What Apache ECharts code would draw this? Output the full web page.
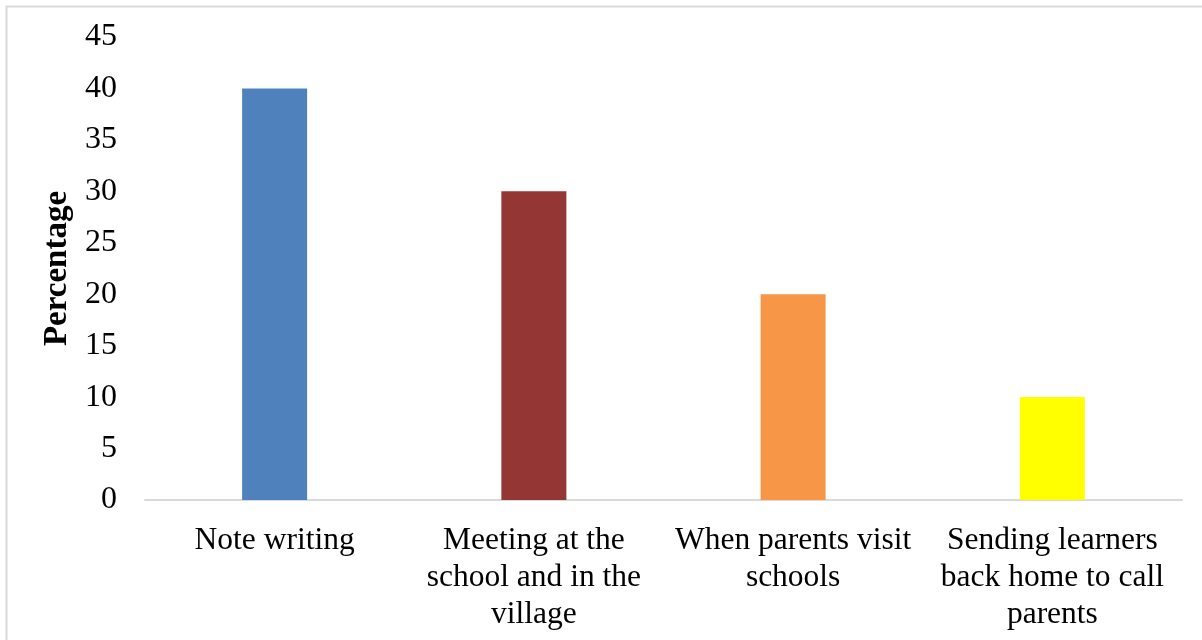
<!DOCTYPE html>
<html>
<head>
<meta charset="utf-8">
<script src="https://cdn.jsdelivr.net/npm/echarts@6/dist/echarts.min.js"></script>
<style>
html,body{margin:0;padding:0;background:#fff;}
#chart{width:1202px;height:640px;}
</style>
</head>
<body>
<div id="chart"></div>
<script>
const categories = ['Note writing', 'Meeting at the\nschool and in the\nvillage', 'When parents visit\nschools', 'Sending learners\nback home to call\nparents'];
const values = [40, 30, 20, 10];
const barColors = ['#4F81BD', '#943634', '#F79646', '#FFFF00'];
const yTicks = {min: 0, max: 45, interval: 5};

const chart = echarts.init(document.getElementById('chart'));
const font = '"Liberation Serif", "Times New Roman", serif';
chart.setOption({
  animation: false,
  graphic: [{
    type: 'rect',
    shape: {x: 6.5, y: 6.5, width: 1300, height: 800},
    style: {fill: 'none', stroke: '#D9D9D9', lineWidth: 2},
    silent: true
  }],
  grid: {left: 145, right: 20, top: 37, bottom: 140},
  xAxis: {
    type: 'category',
    data: categories,
    axisLine: {lineStyle: {color: '#D9D9D9', width: 2}},
    axisTick: {show: false},
    axisLabel: {
      fontFamily: font, fontSize: 31.5, color: '#000', lineHeight: 37,
      margin: 22, interval: 0, align: 'center'
    }
  },
  yAxis: {
    type: 'value',
    min: yTicks.min, max: yTicks.max, interval: yTicks.interval,
    name: 'Percentage',
    nameLocation: 'middle',
    nameGap: 69,
    nameTextStyle: {fontFamily: font, fontSize: 33, fontWeight: 'bold', color: '#000'},
    splitLine: {show: false},
    axisLine: {show: false},
    axisTick: {show: false},
    axisLabel: {fontFamily: font, fontSize: 32, color: '#000', margin: 28}
  },
  series: [{
    type: 'bar',
    data: values.map((v, i) => ({value: v, itemStyle: {color: barColors[i]}})),
    barWidth: 65
  }]
});
</script>
</body>
</html>
